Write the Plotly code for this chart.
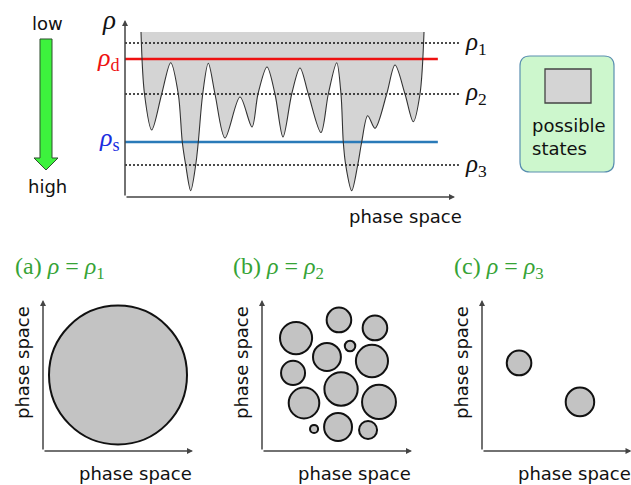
import plotly.graph_objects as go

W, H = 631, 485

# ---------------- data ----------------
# energy-like landscape rho(phase space)
landscape_x = [0.485, 0.591, 0.809, 1.112, 1.385, 1.615, 1.736, 1.839, 1.991, 2.142,
               2.221, 2.355, 2.524, 2.727, 3.030, 3.485, 3.848, 4.030, 4.303, 4.545,
               4.788, 5.052, 5.303, 5.555, 5.939, 6.161, 6.415, 6.545, 6.615, 6.688,
               6.870, 7.052, 7.173, 7.355, 7.576, 7.930, 8.182, 8.485, 8.736, 8.939,
               9.061]
landscape_rho = [1.65, 1.03, 0.67, 1.03, 1.343, 1.03, 0.55, 0.32, 0.063, 0.32,
                 0.55, 1.03, 1.337, 1.03, 0.59, 1.00, 0.70, 1.03, 1.30, 1.03,
                 0.60, 1.03, 1.29, 1.03, 0.645, 1.03, 1.343, 1.03, 0.55, 0.32,
                 0.063, 0.32, 0.55, 0.813, 0.687, 1.03, 1.32, 1.03, 0.753, 1.03,
                 1.65]
fill_top = 1.65
level_names = ["<i>ρ</i><sub>1</sub>", "<i>ρ</i><sub>2</sub>", "<i>ρ</i><sub>3</sub>"]
level_values = [1.54, 1.03, 0.32]
rho_d = 1.38
rho_s = 0.55

# possible-state regions in each phase-space panel
circles_a_x = [5.0]
circles_a_y = [5.03]
circles_a_r = [4.6]

circles_b_x = [5.13, 7.53, 2.27, 5.87, 4.33, 7.33, 2.07, 5.27, 2.80, 7.80, 3.47, 5.07, 7.07]
circles_b_y = [8.68, 8.15, 7.48, 6.95, 6.23, 5.96, 5.17, 4.11, 3.18, 3.25, 1.46, 1.59, 1.39]
circles_b_r = [0.82, 0.82, 1.07, 0.35, 0.93, 1.07, 0.80, 1.11, 1.02, 1.13, 0.27, 0.93, 0.60]

circles_c_x = [2.47, 6.53]
circles_c_y = [5.83, 3.25]
circles_c_r = [0.82, 0.95]

panel_titles = ["(a) <i>ρ</i> = <i>ρ</i><sub>1</sub>",
                "(b) <i>ρ</i> = <i>ρ</i><sub>2</sub>",
                "(c) <i>ρ</i> = <i>ρ</i><sub>3</sub>"]

# ---------------- helpers ----------------
def px(x):
    return x / W

def py(y):
    return 1 - y / H

# top panel geometry (pixels)
TX0, TY0 = 125, 197          # origin of top axes
TXU, TYU = 33.0, 100.0       # pixels per unit
TXMAX, TYMAX = 10.2, 1.77

def tpx(x):  # data x -> paper
    return px(TX0 + x * TXU)

def tpy(r):  # data rho -> paper
    return py(TY0 - r * TYU)

SANS = "DejaVu Sans"
SERIF = "Liberation Serif"
GREEN_T = "#36a336"
AX = "#444444"
SMOOTH = 0.9
FS = 18

fig = go.Figure()

# ---------------- top landscape ----------------
fig.add_trace(go.Scatter(x=[landscape_x[0], landscape_x[-1]], y=[fill_top, fill_top],
                         mode="lines", line=dict(width=0, color="#d4d4d4"),
                         xaxis="x", yaxis="y", hoverinfo="skip", showlegend=False))
fig.add_trace(go.Scatter(x=landscape_x, y=landscape_rho, mode="lines",
                         line=dict(width=0, shape="spline", smoothing=SMOOTH),
                         fill="tonexty", fillcolor="#d4d4d4",
                         xaxis="x", yaxis="y", hoverinfo="skip", showlegend=False))
for v in level_values:
    fig.add_trace(go.Scatter(x=[0, 10.12], y=[v, v], mode="lines",
                             line=dict(color="#111111", width=1.6, dash="2px,2px"),
                             xaxis="x", yaxis="y", hoverinfo="skip", showlegend=False))
fig.add_trace(go.Scatter(x=[0, 9.48], y=[rho_d, rho_d], mode="lines",
                         line=dict(color="#ee1111", width=2.6),
                         xaxis="x", yaxis="y", hoverinfo="skip", showlegend=False))
fig.add_trace(go.Scatter(x=[0, 9.48], y=[rho_s, rho_s], mode="lines",
                         line=dict(color="#2a7ab8", width=2.6),
                         xaxis="x", yaxis="y", hoverinfo="skip", showlegend=False))
fig.add_trace(go.Scatter(x=landscape_x, y=landscape_rho, mode="lines",
                         line=dict(width=1.1, color="#333333", shape="spline", smoothing=SMOOTH),
                         xaxis="x", yaxis="y", hoverinfo="skip", showlegend=False))

annotations = []
# top axes arrows
annotations.append(dict(x=10, y=0, ax=0, ay=0, xref="x", yref="y", axref="x", ayref="y",
                        text="", showarrow=True, arrowhead=2, arrowsize=0.8,
                        arrowwidth=1.5, arrowcolor=AX))
annotations.append(dict(x=0, y=TYMAX, ax=0, ay=0, xref="x", yref="y", axref="x", ayref="y",
                        text="", showarrow=True, arrowhead=2, arrowsize=0.8,
                        arrowwidth=1.5, arrowcolor=AX))
# level labels
for name, v in zip(level_names, level_values):
    annotations.append(dict(x=tpx(10.25), y=tpy(v), xref="paper", yref="paper", text=name,
                            showarrow=False, xanchor="left", yanchor="middle",
                            font=dict(family=SERIF, size=25, color="#111111")))
annotations.append(dict(x=tpx(-0.1), y=tpy(rho_d), xref="paper", yref="paper",
                        text="<i>ρ</i><sub>d</sub>",
                        showarrow=False, xanchor="right", yanchor="middle",
                        font=dict(family=SERIF, size=26, color="#ee1111")))
annotations.append(dict(x=tpx(-0.1), y=tpy(rho_s + 0.03), xref="paper", yref="paper",
                        text="<i>ρ</i><sub>s</sub>",
                        showarrow=False, xanchor="right", yanchor="middle",
                        font=dict(family=SERIF, size=26, color="#1a2ee0")))
annotations.append(dict(x=tpx(-0.2), y=tpy(TYMAX), xref="paper", yref="paper", text="<i>ρ</i>",
                        showarrow=False, xanchor="right", yanchor="middle",
                        font=dict(family=SERIF, size=27, color="#111111")))
annotations.append(dict(x=px(405), y=py(216), xref="paper", yref="paper", text="phase space",
                        showarrow=False, xanchor="center", yanchor="middle",
                        font=dict(family=SANS, size=FS, color="#111111")))
# low / high
annotations.append(dict(x=px(47), y=py(23), xref="paper", yref="paper", text="low",
                        showarrow=False, xanchor="center", yanchor="middle",
                        font=dict(family=SANS, size=FS, color="#111111")))
annotations.append(dict(x=px(47), y=py(187), xref="paper", yref="paper", text="high",
                        showarrow=False, xanchor="center", yanchor="middle",
                        font=dict(family=SANS, size=FS, color="#111111")))
# legend text
annotations.append(dict(x=px(530), y=py(137), xref="paper", yref="paper",
                        text="possible<br>states", align="left",
                        showarrow=False, xanchor="left", yanchor="middle",
                        font=dict(family=SANS, size=FS, color="#111111")))

shapes = []
# green arrow
arrow_pts = [(40, 39), (52, 39), (52, 158), (58, 158), (46, 170), (34, 158), (40, 158)]
path = "M " + " L ".join(f"{px(a):.5f},{py(b):.5f}" for a, b in arrow_pts) + " Z"
shapes.append(dict(type="path", path=path, xref="paper", yref="paper",
                   fillcolor="#3df23d", line=dict(color="#2f4f2f", width=1)))

# rounded legend box
def rounded(x0, y0, x1, y1, r):
    pts = [f"M {px(x0+r)},{py(y0)}", f"L {px(x1-r)},{py(y0)}",
           f"Q {px(x1)},{py(y0)} {px(x1)},{py(y0+r)}", f"L {px(x1)},{py(y1-r)}",
           f"Q {px(x1)},{py(y1)} {px(x1-r)},{py(y1)}", f"L {px(x0+r)},{py(y1)}",
           f"Q {px(x0)},{py(y1)} {px(x0)},{py(y1-r)}", f"L {px(x0)},{py(y0+r)}",
           f"Q {px(x0)},{py(y0)} {px(x0+r)},{py(y0)}", "Z"]
    return " ".join(pts)

shapes.append(dict(type="path", path=rounded(520, 56, 614, 172, 10), xref="paper", yref="paper",
                   fillcolor="#cdf7cd", line=dict(color="#5a8fb0", width=1.2)))
shapes.append(dict(type="rect", x0=px(545), x1=px(591), y0=py(103), y1=py(69),
                   xref="paper", yref="paper", fillcolor="#d4d4d4",
                   line=dict(color="#444444", width=1.3)))

# ---------------- bottom panels ----------------
panels = [
    ("x2", "y2", 43, circles_a_x, circles_a_y, circles_a_r, 13, 10),
    ("x3", "y3", 262, circles_b_x, circles_b_y, circles_b_r, 231, 10),
    ("x4", "y4", 482, circles_c_x, circles_c_y, circles_c_r, 452, 149.5 / 15),
]
for i, (xr, yr, x0px, cx, cy, cr, tx, xmax) in enumerate(panels):
    for xx, yy, rr in zip(cx, cy, cr):
        shapes.append(dict(type="circle", xref=xr, yref=yr,
                           x0=xx - rr, x1=xx + rr, y0=yy - rr, y1=yy + rr,
                           fillcolor="#c3c3c3", line=dict(color="#111111", width=2)))
    annotations.append(dict(x=xmax, y=0, ax=0, ay=0, xref=xr, yref=yr, axref=xr, ayref=yr,
                            text="", showarrow=True, arrowhead=2, arrowsize=0.8,
                            arrowwidth=1.5, arrowcolor=AX))
    annotations.append(dict(x=0, y=10, ax=0, ay=0, xref=xr, yref=yr, axref=xr, ayref=yr,
                            text="", showarrow=True, arrowhead=2, arrowsize=0.8,
                            arrowwidth=1.5, arrowcolor=AX))
    annotations.append(dict(x=px(tx), y=py(268), xref="paper", yref="paper", text=panel_titles[i],
                            showarrow=False, xanchor="left", yanchor="middle",
                            font=dict(family=SERIF, size=24, color=GREEN_T)))
    annotations.append(dict(x=px(x0px - 21), y=py(363), xref="paper", yref="paper",
                            text="phase space", textangle=-90, showarrow=False,
                            xanchor="center", yanchor="middle",
                            font=dict(family=SANS, size=FS, color="#111111")))
    hx = min(x0px + 92, 574)
    annotations.append(dict(x=px(hx), y=py(473), xref="paper", yref="paper",
                            text="phase space", showarrow=False,
                            xanchor="center", yanchor="middle",
                            font=dict(family=SANS, size=FS, color="#111111")))

def hidden(domain, rng):
    return dict(domain=domain, range=rng, visible=False, fixedrange=True)

layout = dict(
    width=W, height=H, margin=dict(l=0, r=0, t=0, b=0),
    paper_bgcolor="white", plot_bgcolor="rgba(0,0,0,0)",
    showlegend=False,
    xaxis=hidden([px(TX0), px(TX0 + TXMAX * TXU)], [0, TXMAX]),
    yaxis=hidden([py(TY0), py(TY0 - TYMAX * TYU)], [0, TYMAX]),
    xaxis2=hidden([px(43), px(193)], [0, 10]),
    yaxis2=hidden([py(451), py(300)], [0, 10]),
    xaxis3=hidden([px(262), px(412)], [0, 10]),
    yaxis3=hidden([py(451), py(300)], [0, 10]),
    xaxis4=hidden([px(482), 1.0], [0, 149 / 15]),
    yaxis4=hidden([py(451), py(300)], [0, 10]),
    shapes=shapes, annotations=annotations,
)
layout["xaxis2"]["anchor"] = "y2"
layout["yaxis2"]["anchor"] = "x2"
layout["xaxis3"]["anchor"] = "y3"
layout["yaxis3"]["anchor"] = "x3"
layout["xaxis4"]["anchor"] = "y4"
layout["yaxis4"]["anchor"] = "x4"
fig.update_layout(**layout)

fig.write_html("out.html", config={"displayModeBar": False},
               post_script="document.body.style.margin='0';document.body.style.overflow='hidden';")
